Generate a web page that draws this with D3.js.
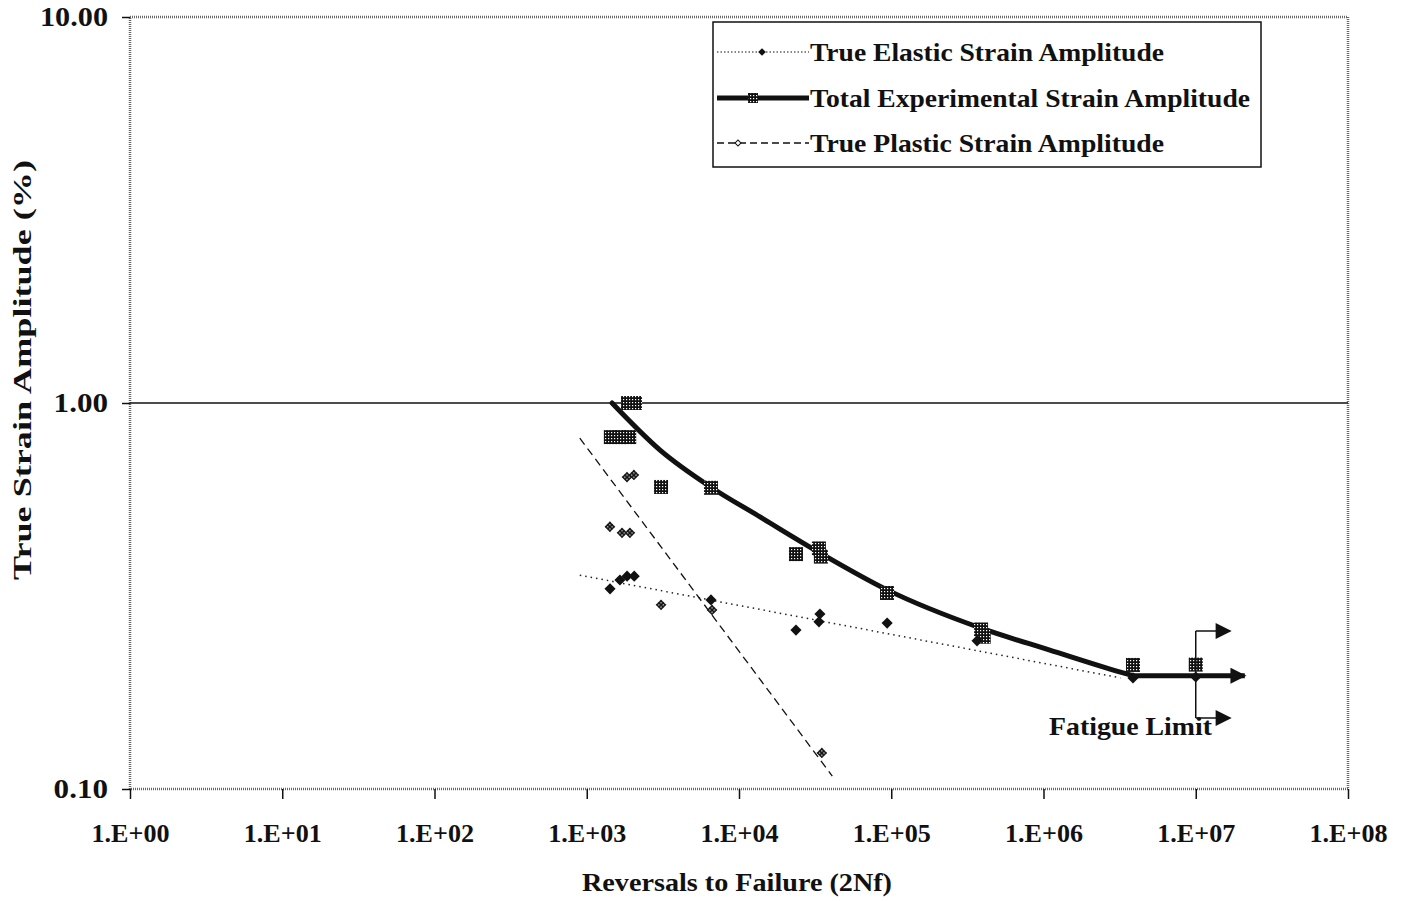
<!DOCTYPE html>
<html>
<head>
<meta charset="utf-8">
<script src="https://cdn.jsdelivr.net/npm/d3@7/dist/d3.min.js"></script>
<style>
  body { margin: 0; background: #fff; }
  text { font-family: "Liberation Serif", "Times New Roman", serif; font-weight: bold; fill: #111; }
</style>
</head>
<body>
<div id="chart"></div>
<script>
  // decade ticks
  var xTicks = [1e0, 1e1, 1e2, 1e3, 1e4, 1e5, 1e6, 1e7, 1e8];
  var xTickLabels = ["1.E+00", "1.E+01", "1.E+02", "1.E+03", "1.E+04", "1.E+05", "1.E+06", "1.E+07", "1.E+08"];
  var yTicks = [0.1, 1, 10];
  var yTickLabels = ["0.10", "1.00", "10.00"];

  // measured points (reversals, strain %)
  var totalN = [1866, 2074, 1440, 1660, 1900, 3076, 6546, 23670, 33500, 34500, 93800, 389000, 405000, 3.87e6, 1e7];
  var totalE = [1.0, 1.0, 0.816, 0.816, 0.816, 0.606, 0.603, 0.406, 0.42, 0.40, 0.322, 0.259, 0.248, 0.2096, 0.21];

  var elasticN = [1422, 1652, 1840, 2050, 6546, 23670, 34000, 33500, 94000, 366000, 3.87e6, 1e7];
  var elasticE = [0.330, 0.348, 0.356, 0.356, 0.309, 0.258, 0.284, 0.271, 0.269, 0.242, 0.194, 0.195];

  var plasticN = [1420, 1705, 1920, 1838, 2040, 3076, 6650, 35000];
  var plasticE = [0.478, 0.461, 0.461, 0.643, 0.651, 0.300, 0.291, 0.124];

  // fitted lines
  var elasticFitN = [900, 3.2e6];
  var elasticFitE = [0.358, 0.194];
  var plasticFitN = [900, 41000];
  var plasticFitE = [0.811, 0.108];
  var totalFitN = [1466, 3030, 6546, 13740, 34000, 94000, 389000, 1.1e6, 3.2e6, 3.87e6];
  var totalFitE = [1.0, 0.755, 0.605, 0.507, 0.409, 0.328, 0.261, 0.229, 0.2008, 0.1966];
  var fatigueN = [3.87e6, 2.1e7];
  var fatigueE = [0.1966, 0.1966];
  // fatigue limit bracket
  var bracketN = [1e7, 1.68e7];
  var bracketE = [0.2566, 0.1527];

  var legendLabels = ["True Elastic Strain Amplitude", "Total Experimental Strain Amplitude", "True Plastic Strain Amplitude"];

  var W = 1411, H = 901;
  var margin = { top: 17, right: 63, bottom: 112, left: 130 };
  var width = W - margin.left - margin.right;
  var height = H - margin.top - margin.bottom;

  var svg = d3.select("#chart").append("svg")
    .attr("width", W)
    .attr("height", H);

  var defs = svg.append("defs");
  // crosshatched fill used by the Excel markers
  var pat = defs.append("pattern")
    .attr("id", "hatch")
    .attr("patternUnits", "userSpaceOnUse")
    .attr("width", 3).attr("height", 3);
  pat.append("rect").attr("width", 3).attr("height", 3).attr("fill", "#111");
  pat.append("rect").attr("x", 1).attr("y", 1).attr("width", 1.2).attr("height", 1.2).attr("fill", "#fff");

  defs.append("marker")
    .attr("id", "arrow")
    .attr("viewBox", "0 0 10 10")
    .attr("refX", 9).attr("refY", 5)
    .attr("markerUnits", "userSpaceOnUse")
    .attr("markerWidth", 20).attr("markerHeight", 16)
    .attr("orient", "auto")
    .append("path")
    .attr("d", "M0,0L10,5L0,10Z")
    .attr("fill", "#111");

  var g = svg.append("g")
    .attr("transform", "translate(" + margin.left + "," + margin.top + ")");

  var x = d3.scaleLog().domain([1, 1e8]).range([0, width]);
  var y = d3.scaleLog().domain([0.1, 10]).range([height, 0]);

  // frame (Excel style dotted grey border)
  g.append("rect")
    .attr("width", width).attr("height", height)
    .attr("fill", "none")
    .attr("stroke", "#666")
    .attr("stroke-width", 2.5)
    .attr("stroke-dasharray", "1,1");

  // 1.00 gridline
  g.append("line")
    .attr("x1", 0).attr("x2", width)
    .attr("y1", y(1)).attr("y2", y(1))
    .attr("stroke", "#111").attr("stroke-width", 1.5);

  // axes
  var xAxis = g.append("g")
    .attr("transform", "translate(0," + height + ")")
    .call(d3.axisBottom(x).tickValues(xTicks).tickSize(10).tickPadding(25)
      .tickFormat(function(d, i) { return xTickLabels[i]; }));
  xAxis.select(".domain").remove();
  xAxis.selectAll("text").style("font-size", "26px").attr("fill", "#111")
    .attr("textLength", 78).attr("lengthAdjust", "spacingAndGlyphs");
  xAxis.selectAll("line").attr("stroke", "#111").attr("stroke-width", 1.5);

  var yAxis = g.append("g")
    .call(d3.axisLeft(y).tickValues(yTicks).tickSize(8).tickPadding(14)
      .tickFormat(function(d, i) { return yTickLabels[i]; }));
  yAxis.select(".domain").remove();
  yAxis.selectAll("text").style("font-size", "27px").attr("fill", "#111")
    .attr("textLength", function(d, i) { return yTickLabels[i].length * 13.6; })
    .attr("lengthAdjust", "spacingAndGlyphs");
  yAxis.selectAll("line").attr("stroke", "#111").attr("stroke-width", 1.5);

  // axis titles
  svg.append("text")
    .attr("x", 737).attr("y", 891)
    .attr("text-anchor", "middle")
    .style("font-size", "26px")
    .attr("textLength", 310).attr("lengthAdjust", "spacingAndGlyphs")
    .text("Reversals to Failure (2Nf)");

  svg.append("text")
    .attr("transform", "translate(31,370) rotate(-90)")
    .attr("text-anchor", "middle")
    .style("font-size", "26px")
    .attr("textLength", 420).attr("lengthAdjust", "spacingAndGlyphs")
    .text("True Strain Amplitude (%)");

  var line = d3.line()
    .x(function(d) { return x(d[0]); })
    .y(function(d) { return y(d[1]); });

  // fitted lines
  g.append("path")
    .datum(d3.zip(elasticFitN, elasticFitE))
    .attr("fill", "none").attr("stroke", "#222")
    .attr("stroke-width", 1.5).attr("stroke-dasharray", "1.5,4")
    .attr("d", line);

  g.append("path")
    .datum(d3.zip(plasticFitN, plasticFitE))
    .attr("fill", "none").attr("stroke", "#111")
    .attr("stroke-width", 1.3).attr("stroke-dasharray", "8,5")
    .attr("d", line);

  g.append("path")
    .datum(d3.zip(totalFitN, totalFitE))
    .attr("fill", "none").attr("stroke", "#111")
    .attr("stroke-width", 5).attr("stroke-linecap", "round")
    .attr("d", line.curve(d3.curveMonotoneX));
  line.curve(d3.curveLinear);

  // markers
  var sq = 14;
  g.selectAll(".tot").data(d3.zip(totalN, totalE)).enter().append("rect")
    .attr("x", function(d) { return x(d[0]) - sq / 2; })
    .attr("y", function(d) { return y(d[1]) - sq / 2; })
    .attr("width", sq).attr("height", sq)
    .attr("fill", "url(#hatch)");

  var diamond = d3.symbol().type(d3.symbolSquare);
  g.selectAll(".ela").data(d3.zip(elasticN, elasticE)).enter().append("path")
    .attr("transform", function(d) { return "translate(" + x(d[0]) + "," + y(d[1]) + ") rotate(45)"; })
    .attr("d", diamond.size(62)())
    .attr("fill", "#111");

  g.selectAll(".pla").data(d3.zip(plasticN, plasticE)).enter().append("path")
    .attr("transform", function(d) { return "translate(" + x(d[0]) + "," + y(d[1]) + ") rotate(45)"; })
    .attr("d", diamond.size(58)())
    .attr("fill", "url(#hatch)");

  // fatigue limit
  g.append("path")
    .datum(d3.zip(fatigueN, fatigueE))
    .attr("fill", "none").attr("stroke", "#111")
    .attr("stroke-width", 5)
    .attr("marker-end", "url(#arrow)")
    .attr("d", line);

  g.append("line")
    .attr("x1", x(bracketN[0])).attr("x2", x(bracketN[0]))
    .attr("y1", y(bracketE[0])).attr("y2", y(bracketE[1]))
    .attr("stroke", "#111").attr("stroke-width", 1.5);

  bracketE.forEach(function(e) {
    g.append("path")
      .datum([[bracketN[0], e], [bracketN[1], e]])
      .attr("fill", "none").attr("stroke", "#111")
      .attr("stroke-width", 1.5)
      .attr("marker-end", "url(#arrow)")
      .attr("d", line);
  });

  svg.append("text")
    .attr("x", 1049).attr("y", 735)
    .style("font-size", "26px")
    .attr("textLength", 163).attr("lengthAdjust", "spacingAndGlyphs")
    .text("Fatigue Limit");

  // legend
  var lg = svg.append("g").attr("transform", "translate(713,22)");
  lg.append("rect")
    .attr("width", 548).attr("height", 145)
    .attr("fill", "#fff").attr("stroke", "#111").attr("stroke-width", 1.5);

  var rows = [30, 76, 121];
  var textLens = [354, 440, 354];
  var styles = [
    { w: 1, dash: "1.5,2", mark: "ela", mx: 49 },
    { w: 5, dash: null, mark: "tot", mx: 40 },
    { w: 1.3, dash: "7,4", mark: "pla", mx: 25 }
  ];
  rows.forEach(function(ry, i) {
    var s = styles[i];
    lg.append("line")
      .attr("x1", 4).attr("x2", 96)
      .attr("y1", ry).attr("y2", ry)
      .attr("stroke", "#111").attr("stroke-width", s.w)
      .attr("stroke-dasharray", s.dash);
    if (s.mark === "tot") {
      lg.append("rect").attr("x", s.mx - 5).attr("y", ry - 5)
        .attr("width", 10).attr("height", 10).attr("fill", "url(#hatch)");
    } else if (s.mark === "ela") {
      lg.append("path").attr("transform", "translate(" + s.mx + "," + ry + ") rotate(45)")
        .attr("d", diamond.size(30)()).attr("fill", "#111");
    } else {
      lg.append("path").attr("transform", "translate(" + s.mx + "," + ry + ") rotate(45)")
        .attr("d", diamond.size(18)()).attr("fill", "#fff")
        .attr("stroke", "#111").attr("stroke-width", 1);
    }
    lg.append("text")
      .attr("x", 97).attr("y", ry + 9)
      .style("font-size", "26px")
      .attr("textLength", textLens[i]).attr("lengthAdjust", "spacingAndGlyphs")
      .text(legendLabels[i]);
  });
</script>
</body>
</html>
